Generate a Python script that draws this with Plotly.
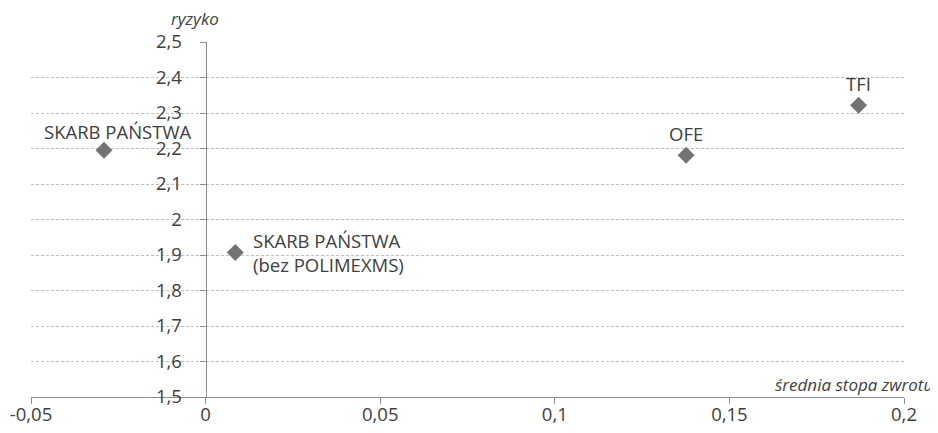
import plotly.graph_objects as go

names = ["SKARB PAŃSTWA", "SKARB PAŃSTWA<br>(bez POLIMEXMS)", "OFE", "TFI"]
ret = [-0.0291, 0.0085, 0.1376, 0.1870]
risk = [2.195, 1.907, 2.181, 2.322]
lab_xshift = [14, 16, 0, 0]
lab_yshift = [19, 0, 22, 22]
lab_anchor = ["center", "left", "center", "center"]
xticks = [-0.05, 0, 0.05, 0.1, 0.15, 0.2]
xtick_text = ["-0,05", "0", "0,05", "0,1", "0,15", "0,2"]
yticks = [1.5, 1.6, 1.7, 1.8, 1.9, 2.0, 2.1, 2.2, 2.3, 2.4, 2.5]
ytick_text = ["1,5", "1,6", "1,7", "1,8", "1,9", "2", "2,1", "2,2", "2,3", "2,4", "2,5"]

FONT = "Open Sans"
TXT = "#404040"
AX = "#8c8c8c"
FS = 18.5

fig = go.Figure()
fig.add_trace(go.Scatter(
    x=ret, y=risk, mode="markers",
    marker=dict(symbol="diamond", size=13, color="#737373", line=dict(width=0)),
    hoverinfo="skip", showlegend=False,
))

for n, xv, yv, xs, ys, an in zip(names, ret, risk, lab_xshift, lab_yshift, lab_anchor):
    fig.add_annotation(x=xv, y=yv, text=n, showarrow=False, xshift=xs, yshift=ys,
                       xanchor=an, yanchor="middle", align="left",
                       font=dict(family=FONT, size=FS, color=TXT))

fig.add_annotation(x=0, y=1.0, xref="x", yref="paper", text="<i>ryzyko</i>", showarrow=False,
                   xanchor="center", yanchor="middle", xshift=-11, yshift=24,
                   font=dict(family=FONT, size=17, color=TXT))
fig.add_annotation(x=1.0, y=0, xref="paper", yref="paper", text="<i>średnia stopa zwrotu</i>",
                   showarrow=False, xanchor="right", yanchor="middle", xshift=31, yshift=13,
                   font=dict(family=FONT, size=17, color=TXT))

fig.update_layout(
    width=930, height=425,
    margin=dict(l=23, r=34, t=34, b=36, autoexpand=False),
    paper_bgcolor="white", plot_bgcolor="white",
    xaxis=dict(range=[-0.05, 0.2], tickvals=xticks, ticktext=xtick_text,
               showgrid=False, zeroline=False, showline=True, linecolor=AX, linewidth=1,
               ticks="outside", ticklen=6, tickcolor=AX, automargin=False,
               ticklabelstandoff=-5,
               tickfont=dict(family=FONT, size=FS, color=TXT)),
    yaxis=dict(range=[1.5, 2.5], tickvals=yticks, ticktext=ytick_text,
               anchor="free", position=0.2, automargin=False,
               showgrid=True, gridcolor="#bfbfbf", griddash="3px,2px", gridwidth=1,
               zeroline=False, showline=True, linecolor=AX, linewidth=1,
               ticks="outside", ticklen=6, tickcolor=AX, ticklabelstandoff=14,
               tickfont=dict(family=FONT, size=FS, color=TXT)),
)

fig.write_html("out.html")
